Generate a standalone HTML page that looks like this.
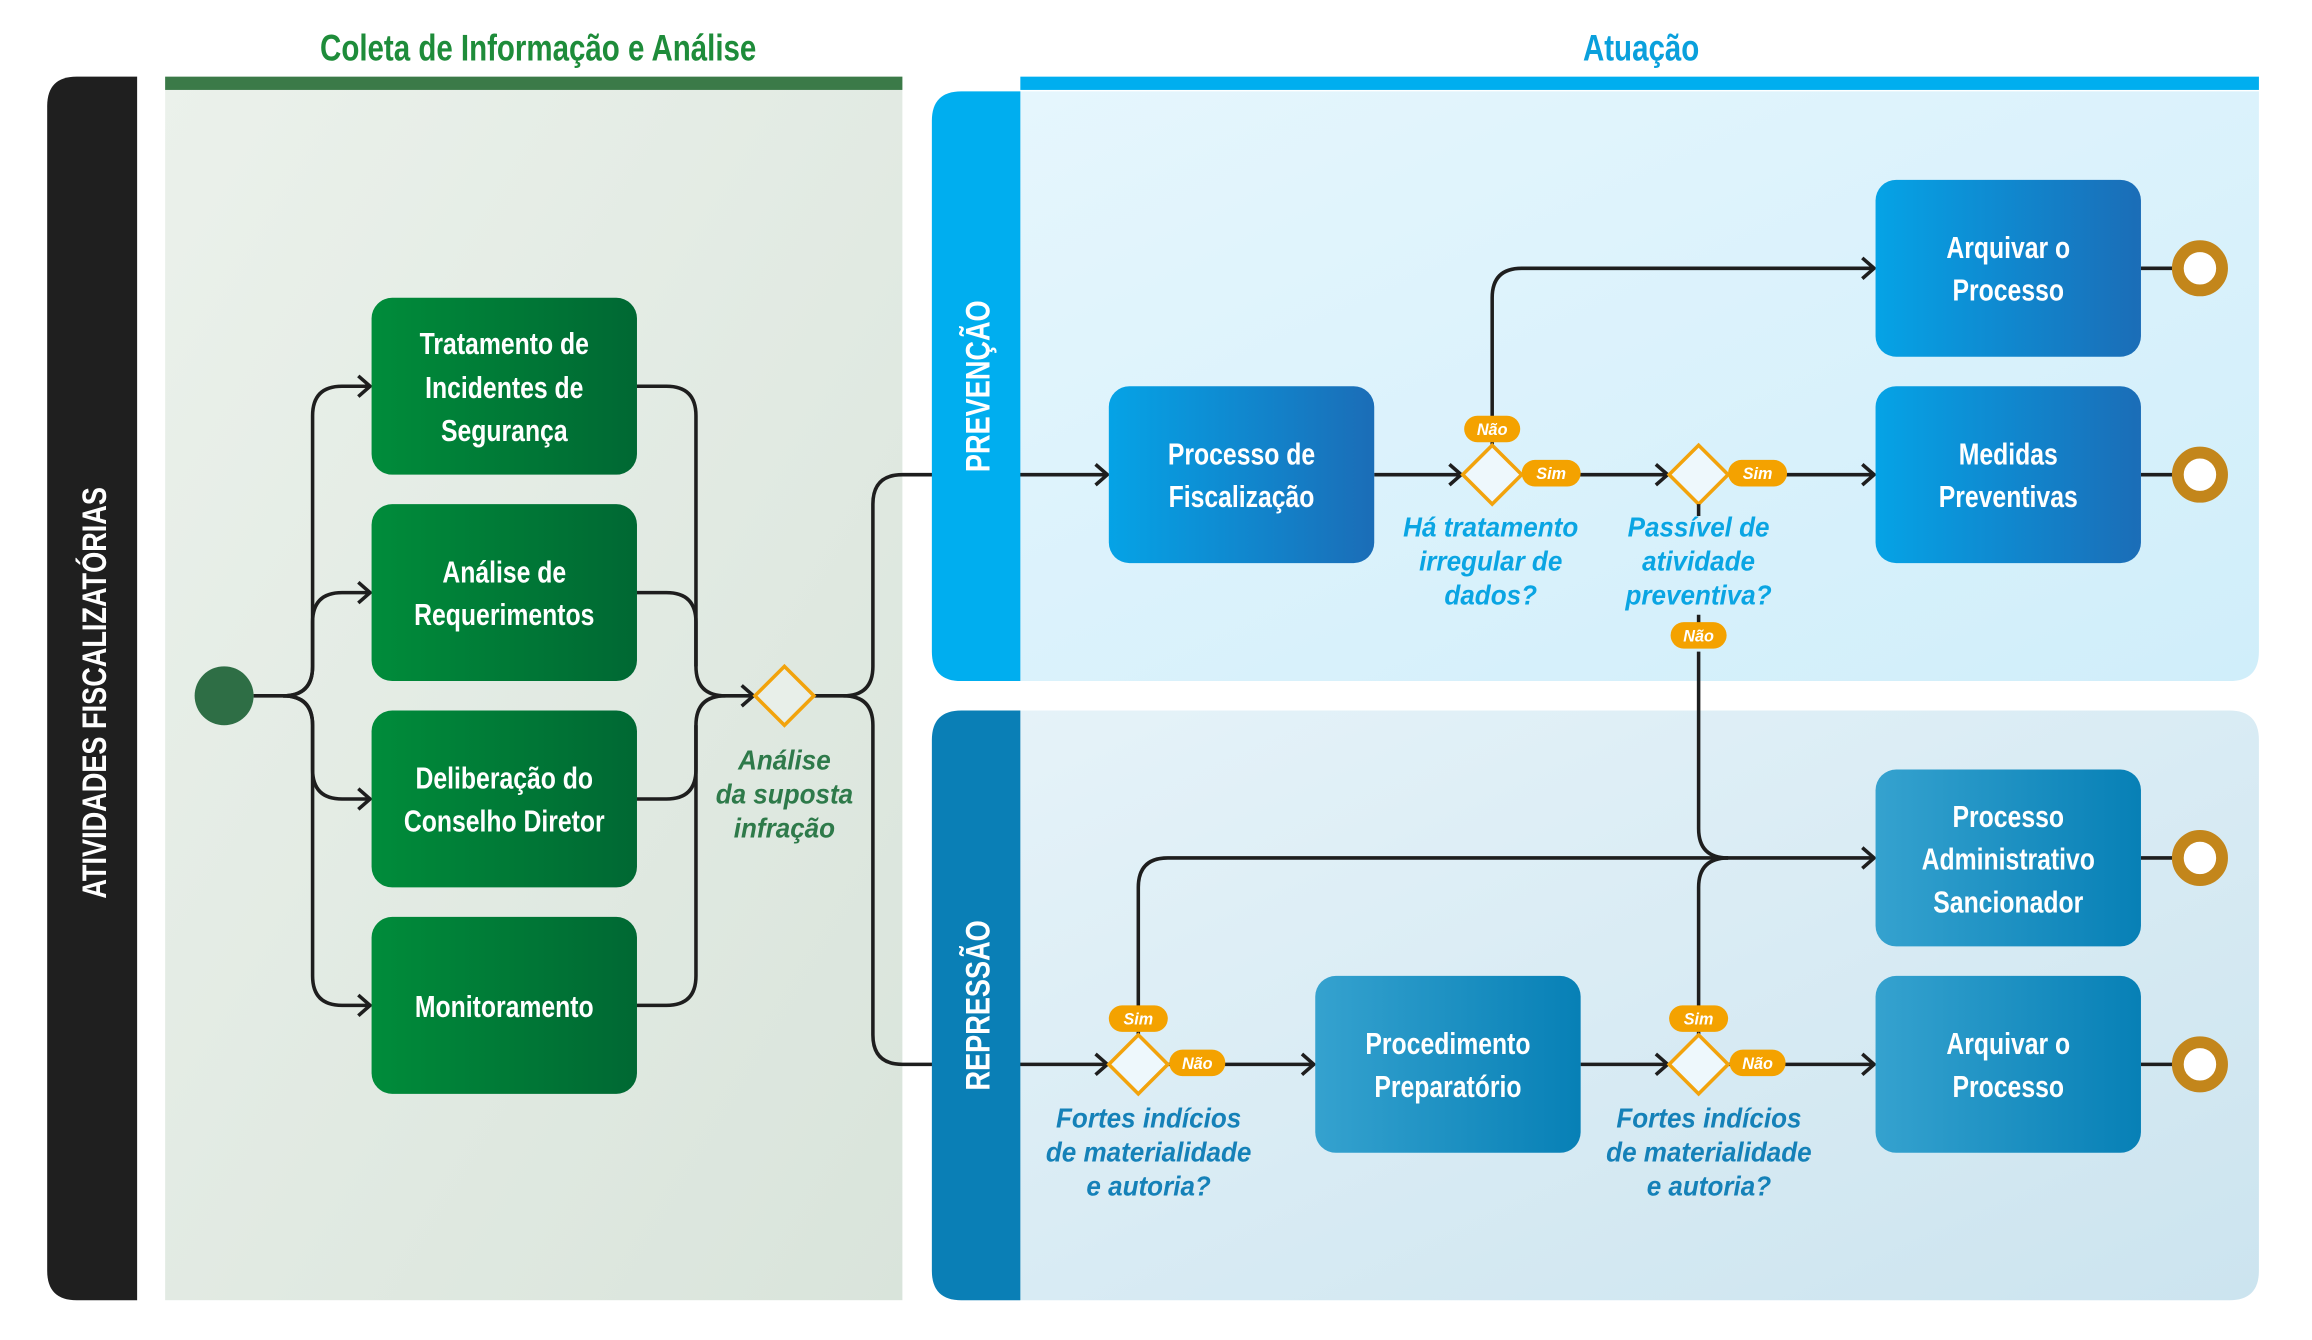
<!DOCTYPE html>
<html><head><meta charset="utf-8">
<style>
html,body{margin:0;padding:0;background:#fff;}
svg{display:block;}
text{font-family:"Liberation Sans Narrow","Liberation Sans",sans-serif;}
.cd{transform:scaleX(.8);transform-origin:center;transform-box:fill-box;}
.bx{fill:#fff;font-weight:bold;font-size:21px;text-anchor:middle;transform:scaleX(.8);transform-origin:center;transform-box:fill-box;}
.q{font-style:italic;font-weight:bold;font-size:19px;text-anchor:middle;fill:#0aa5e3;transform:scaleX(.93);transform-origin:center;transform-box:fill-box;}
.pl{fill:#fff;font-style:italic;font-weight:bold;font-size:11px;text-anchor:middle;}
.ln{fill:none;stroke:#1e1e1e;stroke-width:2.4;}
</style></head><body>
<svg width="2312" height="1340" viewBox="0 0 1568 909" preserveAspectRatio="none" xmlns="http://www.w3.org/2000/svg">
<defs>
<marker id="ar" markerUnits="userSpaceOnUse" markerWidth="14" markerHeight="18" refX="10" refY="8" orient="auto">
<path d="M2,1 L10,8 L2,15" fill="none" stroke="#1e1e1e" stroke-width="2.4"/>
</marker>
<linearGradient id="gp" x1="0" y1="0" x2="1" y2="1"><stop offset="0" stop-color="#ebf1eb"/><stop offset="1" stop-color="#d9e4db"/></linearGradient>
<linearGradient id="bp1" x1="0" y1="0" x2="1" y2="1"><stop offset="0" stop-color="#e6f6fd"/><stop offset="1" stop-color="#d0eefa"/></linearGradient>
<linearGradient id="bp2" x1="0" y1="0" x2="1" y2="1"><stop offset="0" stop-color="#e6f3f9"/><stop offset="1" stop-color="#cce4ef"/></linearGradient>
<linearGradient id="gb" x1="0" y1="0" x2="1" y2="0"><stop offset="0" stop-color="#008c3a"/><stop offset="1" stop-color="#006833"/></linearGradient>
<linearGradient id="b1" x1="0" y1="0" x2="1" y2="0"><stop offset="0" stop-color="#05a3e6"/><stop offset="1" stop-color="#1b6db7"/></linearGradient>
<linearGradient id="b2" x1="0" y1="0" x2="1" y2="0"><stop offset="0" stop-color="#35a2cf"/><stop offset="1" stop-color="#0780b6"/></linearGradient>
</defs>
<rect width="1568" height="909" fill="#fff"/>
<text class="cd" x="365" y="41" text-anchor="middle" font-size="25" font-weight="bold" fill="#1e8c3a">Coleta de Informação e Análise</text>
<text class="cd" x="1113" y="41" text-anchor="middle" font-size="25" font-weight="bold" fill="#0aa0dc">Atuação</text>
<path d="M52,52 H93 V882 H52 Q32,882 32,862 V72 Q32,52 52,52Z" fill="#1f1f1f"/>
<g transform="translate(72,470) rotate(-90)"><text class="cd" x="0" y="0" text-anchor="middle" font-size="23" font-weight="bold" fill="#fff">ATIVIDADES  FISCALIZATÓRIAS</text></g>
<rect x="112" y="52" width="500" height="830" fill="url(#gp)"/>
<rect x="112" y="52" width="500" height="9" fill="#3b7a48"/>
<rect x="692" y="52" width="840" height="9" fill="#00aeef"/>
<path d="M652,62 H1532 V442 Q1532,462 1512,462 H652 Q632,462 632,442 V82 Q632,62 652,62Z" fill="url(#bp1)"/>
<path d="M652,482 H1512 Q1532,482 1532,502 V862 Q1532,882 1512,882 H652 Q632,882 632,862 V502 Q632,482 652,482Z" fill="url(#bp2)"/>

<path class="ln" d="M172,472 H192 Q212,472 212,452 V282 Q212,262 232,262 H251" marker-end="url(#ar)"/>
<path class="ln" d="M192,472 Q212,472 212,452 V422 Q212,402 232,402 H251" marker-end="url(#ar)"/>
<path class="ln" d="M192,472 Q212,472 212,492 V522 Q212,542 232,542 H251" marker-end="url(#ar)"/>
<path class="ln" d="M192,472 Q212,472 212,492 V662 Q212,682 232,682 H251" marker-end="url(#ar)"/>
<path class="ln" d="M432,262 H452 Q472,262 472,282 V452 Q472,472 492,472 H511" marker-end="url(#ar)"/>
<path class="ln" d="M432,402 H452 Q472,402 472,422 V452"/>
<path class="ln" d="M432,542 H452 Q472,542 472,522 V492 Q472,472 492,472"/>
<path class="ln" d="M432,682 H452 Q472,682 472,662 V492"/>
<path class="ln" d="M552,472 H572 Q592,472 592,452 V342 Q592,322 612,322 H751" marker-end="url(#ar)"/>
<path class="ln" d="M572,472 Q592,472 592,492 V702 Q592,722 612,722 H751" marker-end="url(#ar)"/>

<path d="M652,62 H692 V462 H652 Q632,462 632,442 V82 Q632,62 652,62Z" fill="#00aeef"/>
<g transform="translate(671,262) rotate(-90)"><text class="cd" x="0" y="0" text-anchor="middle" font-size="23" font-weight="bold" fill="#fff">PREVENÇÃO</text></g>
<path d="M652,482 H692 V882 H652 Q632,882 632,862 V502 Q632,482 652,482Z" fill="#0a7fb6"/>
<g transform="translate(671,682) rotate(-90)"><text class="cd" x="0" y="0" text-anchor="middle" font-size="23" font-weight="bold" fill="#fff">REPRESSÃO</text></g>

<path class="ln" d="M932,322 H991" marker-end="url(#ar)"/>
<path class="ln" d="M1032,322 H1131" marker-end="url(#ar)"/>
<path class="ln" d="M1172,322 H1271" marker-end="url(#ar)"/>
<path class="ln" d="M1012,302 V202 Q1012,182 1032,182 H1271" marker-end="url(#ar)"/>
<path class="ln" d="M1152,442 V562 Q1152,582 1172,582"/>
<path class="ln" d="M792,722 H891" marker-end="url(#ar)"/>
<path class="ln" d="M1072,722 H1131" marker-end="url(#ar)"/>
<path class="ln" d="M1172,722 H1271" marker-end="url(#ar)"/>
<path class="ln" d="M772,702 V602 Q772,582 792,582 H1271" marker-end="url(#ar)"/>
<path class="ln" d="M1152,702 V602 Q1152,582 1172,582"/>
<path class="ln" d="M1452,182 H1478 M1452,322 H1478 M1452,582 H1478 M1452,722 H1478"/>

<circle cx="152" cy="472" r="20" fill="#2e6e45"/>
<rect x="252" y="202" width="180" height="120" rx="14" fill="url(#gb)"/>
<rect x="252" y="342" width="180" height="120" rx="14" fill="url(#gb)"/>
<rect x="252" y="482" width="180" height="120" rx="14" fill="url(#gb)"/>
<rect x="252" y="622" width="180" height="120" rx="14" fill="url(#gb)"/>
<text class="bx" x="342" y="240">Tratamento de</text>
<text class="bx" x="342" y="270">Incidentes de</text>
<text class="bx" x="342" y="299">Segurança</text>
<text class="bx" x="342" y="395">Análise de</text>
<text class="bx" x="342" y="424">Requerimentos</text>
<text class="bx" x="342" y="535">Deliberação do</text>
<text class="bx" x="342" y="564">Conselho Diretor</text>
<text class="bx" x="342" y="690">Monitoramento</text>

<rect x="752" y="262" width="180" height="120" rx="14" fill="url(#b1)"/>
<rect x="1272" y="122" width="180" height="120" rx="14" fill="url(#b1)"/>
<rect x="1272" y="262" width="180" height="120" rx="14" fill="url(#b1)"/>
<rect x="1272" y="522" width="180" height="120" rx="14" fill="url(#b2)"/>
<rect x="892" y="662" width="180" height="120" rx="14" fill="url(#b2)"/>
<rect x="1272" y="662" width="180" height="120" rx="14" fill="url(#b2)"/>
<text class="bx" x="842" y="315">Processo de</text>
<text class="bx" x="842" y="344">Fiscalização</text>
<text class="bx" x="1362" y="175">Arquivar o</text>
<text class="bx" x="1362" y="204">Processo</text>
<text class="bx" x="1362" y="315">Medidas</text>
<text class="bx" x="1362" y="344">Preventivas</text>
<text class="bx" x="1362" y="561">Processo</text>
<text class="bx" x="1362" y="590">Administrativo</text>
<text class="bx" x="1362" y="619">Sancionador</text>
<text class="bx" x="982" y="715">Procedimento</text>
<text class="bx" x="982" y="744">Preparatório</text>
<text class="bx" x="1362" y="715">Arquivar o</text>
<text class="bx" x="1362" y="744">Processo</text>

<g fill="#fff" stroke="#c3861b" stroke-width="8">
<circle cx="1492" cy="182" r="15"/><circle cx="1492" cy="322" r="15"/>
<circle cx="1492" cy="582" r="15"/><circle cx="1492" cy="722" r="15"/>
</g>

<g fill="#eef8fc" stroke="#f2a30c" stroke-width="2.4">
<path d="M532,452 L552,472 L532,492 L512,472Z" fill="#e8efe9"/>
<path d="M1012,302 L1032,322 L1012,342 L992,322Z"/>
<path d="M1152,302 L1172,322 L1152,342 L1132,322Z"/>
<path d="M772,702 L792,722 L772,742 L752,722Z"/>
<path d="M1152,702 L1172,722 L1152,742 L1132,722Z"/>
</g>
<path class="ln" d="M1152,342 V350 M1152,417 V424"/>

<g fill="#f4a200">
<rect x="993" y="282" width="38" height="18" rx="9"/>
<rect x="1032" y="312" width="40" height="18" rx="9"/>
<rect x="1172" y="312" width="40" height="18" rx="9"/>
<rect x="1133" y="422" width="38" height="18" rx="9"/>
<rect x="752" y="682" width="40" height="18" rx="9"/>
<rect x="793" y="712" width="38" height="18" rx="9"/>
<rect x="1132" y="682" width="40" height="18" rx="9"/>
<rect x="1173" y="712" width="38" height="18" rx="9"/>
</g>
<text class="pl" x="1012" y="295">Não</text>
<text class="pl" x="1052" y="325">Sim</text>
<text class="pl" x="1192" y="325">Sim</text>
<text class="pl" x="1152" y="435">Não</text>
<text class="pl" x="772" y="695">Sim</text>
<text class="pl" x="812" y="725">Não</text>
<text class="pl" x="1152" y="695">Sim</text>
<text class="pl" x="1192" y="725">Não</text>

<text class="q" x="532" y="522" style="fill:#2e7a4a">Análise</text>
<text class="q" x="532" y="545" style="fill:#2e7a4a">da suposta</text>
<text class="q" x="532" y="568" style="fill:#2e7a4a">infração</text>
<text class="q" x="1011" y="364">Há tratamento</text>
<text class="q" x="1011" y="387">irregular de</text>
<text class="q" x="1011" y="410">dados?</text>
<text class="q" x="1152" y="364">Passível de</text>
<text class="q" x="1152" y="387">atividade</text>
<text class="q" x="1152" y="410">preventiva?</text>
<text class="q" x="779" y="765" style="fill:#1581b8">Fortes indícios</text>
<text class="q" x="779" y="788" style="fill:#1581b8">de materialidade</text>
<text class="q" x="779" y="811" style="fill:#1581b8">e autoria?</text>
<text class="q" x="1159" y="765" style="fill:#1581b8">Fortes indícios</text>
<text class="q" x="1159" y="788" style="fill:#1581b8">de materialidade</text>
<text class="q" x="1159" y="811" style="fill:#1581b8">e autoria?</text>
</svg>
</body></html>
